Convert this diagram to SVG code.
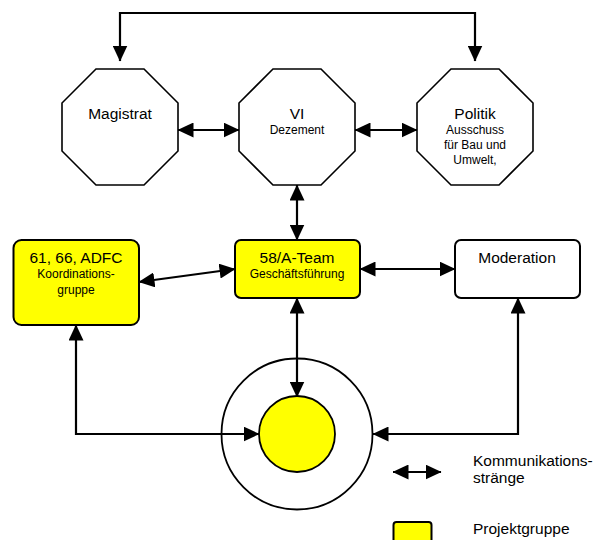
<svg xmlns="http://www.w3.org/2000/svg" width="607" height="540" viewBox="0 0 607 540">
<defs>
<marker id="ah" viewBox="0 0 16 15" refX="15.5" refY="7.5" markerWidth="16" markerHeight="15" markerUnits="userSpaceOnUse" orient="auto-start-reverse">
<path d="M0,0 L16,7.5 L0,15 z" fill="#000"/>
</marker>
<style>
.oct{fill:#fff;stroke:#000;stroke-width:1.6}
.box{stroke:#000;stroke-width:2}
.y{fill:#ffff00}
.w{fill:#fff}
.con{fill:none;stroke:#000;stroke-width:2.2;marker-start:url(#ah);marker-end:url(#ah)}
text{font-family:"Liberation Sans",Arial,sans-serif;fill:#000;text-anchor:middle}
.big{font-size:15.5px}
.sm{font-size:12px}
.leg{font-size:15.5px;text-anchor:start}
</style>
</defs>
<rect width="607" height="540" fill="#fff"/>
<g id="connectors">
<path class="con" d="M120,61 V13 H475 V61"/>
<path class="con" d="M178,130 H239"/>
<path class="con" d="M355,130 H417"/>
<path class="con" d="M297,185 V240"/>
<path class="con" d="M139,282 L235,269"/>
<path class="con" d="M360,269 H455"/>
<path class="con" d="M297,298 V397"/>
<path class="con" d="M76,325 V434 H259"/>
<path class="con" d="M518,298 V434 H373"/>
</g>
<g id="magistrat">
<polygon class="oct" points="96,69 144,69 178,103 178,151 144,185 96,185 62,151 62,103"/>
<text class="big" x="120" y="119">Magistrat</text>
</g>
<g id="vi">
<polygon class="oct" points="273,69 321,69 355,103 355,151 321,185 273,185 239,151 239,103"/>
<text class="big" x="297" y="119">VI</text>
<text class="sm" x="297" y="134">Dezement</text>
</g>
<g id="politik">
<polygon class="oct" points="451,69 499,69 533,103 533,151 499,185 451,185 417,151 417,103"/>
<text class="big" x="475" y="119">Politik</text>
<text class="sm" x="475" y="134">Ausschuss</text>
<text class="sm" x="475" y="149">für Bau und</text>
<text class="sm" x="475" y="164">Umwelt,</text>
</g>
<g id="adfc">
<rect class="box y" x="13.5" y="240" width="125.5" height="85" rx="8"/>
<text class="big" x="76" y="263">61, 66, ADFC</text>
<text class="sm" x="76" y="278">Koordinations-</text>
<text class="sm" x="76" y="294">gruppe</text>
</g>
<g id="ateam">
<rect class="box y" x="235" y="240" width="125" height="58" rx="6"/>
<text class="big" x="297" y="263">58/A-Team</text>
<text class="sm" x="297" y="278">Geschäftsführung</text>
</g>
<g id="moderation">
<rect class="box w" x="455" y="240" width="125" height="58" rx="6"/>
<text class="big" x="517" y="263">Moderation</text>
</g>
<g id="projekt">
<circle cx="297" cy="434" r="75.5" fill="none" stroke="#000" stroke-width="1.8"/>
<circle cx="297" cy="434" r="38" fill="#ffff00" stroke="#000" stroke-width="1.8"/>
</g>
<g id="legend">
<path class="con" d="M393,472 H441"/>
<text class="leg" x="473" y="466">Kommunikations-</text>
<text class="leg" x="473" y="483">stränge</text>
<rect class="box y" x="393.5" y="522" width="38" height="24" rx="3"/>
<text class="leg" x="473" y="534">Projektgruppe</text>
</g>
</svg>
